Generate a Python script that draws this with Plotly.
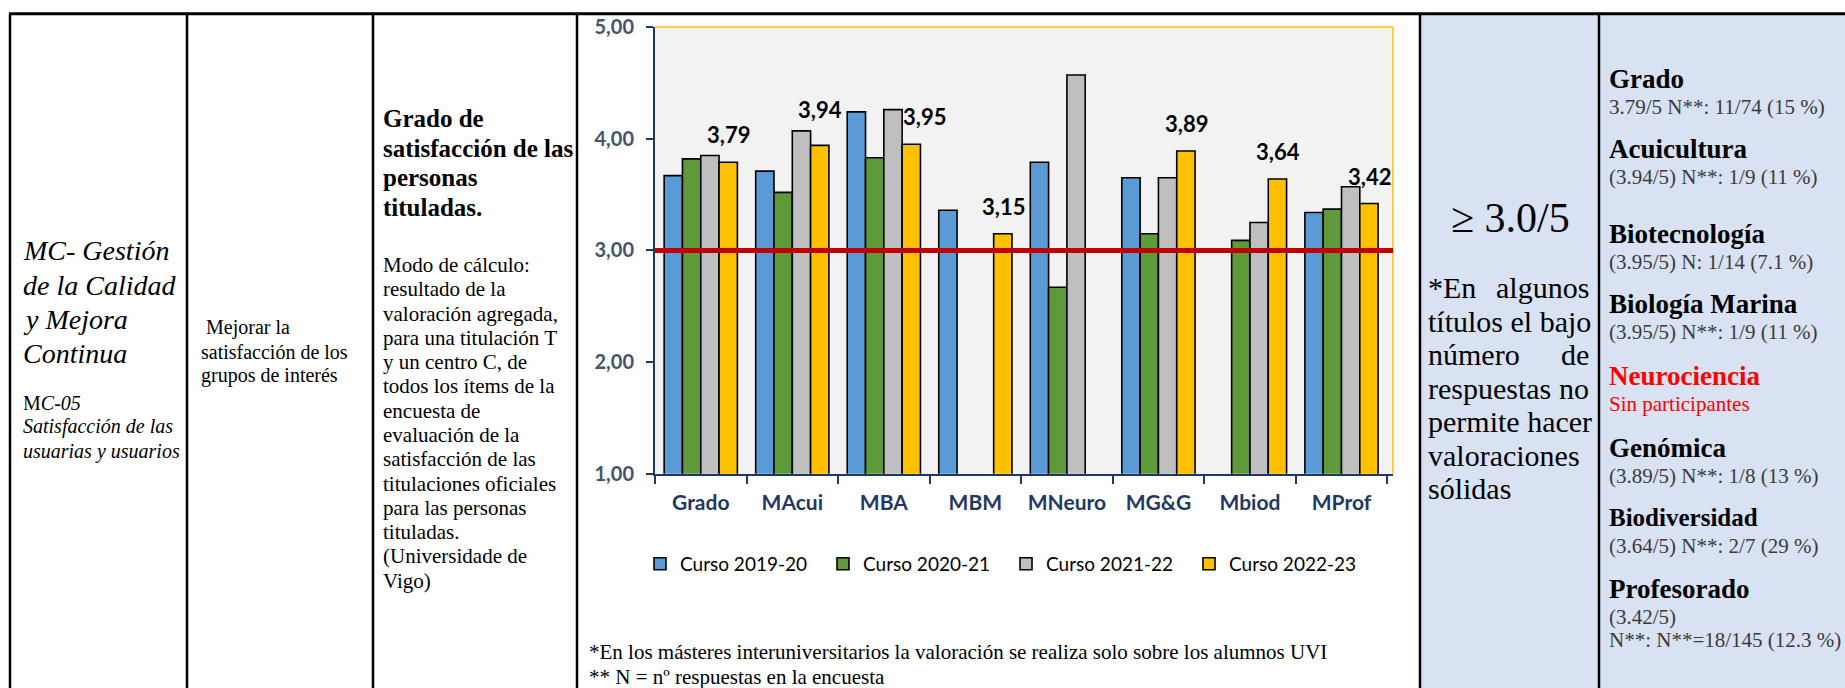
import plotly.graph_objects as go

# ---------------- data ----------------
categories = ["Grado", "MAcui", "MBA", "MBM", "MNeuro", "MG&G", "Mbiod", "MProf"]
curso_2019_20 = [3.67, 3.71, 4.24, 3.36, 3.79, 3.65, None, 3.34]
curso_2020_21 = [3.82, 3.52, 3.83, None, 2.67, 3.15, 3.09, 3.37]
curso_2021_22 = [3.85, 4.07, 4.26, None, 4.57, 3.65, 3.25, 3.57]
curso_2022_23 = [3.79, 3.94, 3.95, 3.15, None, 3.89, 3.64, 3.42]
series_names = ["Curso 2019-20", "Curso 2020-21", "Curso 2021-22", "Curso 2022-23"]
threshold = 3.0
y_ticks = [1, 2, 3, 4, 5]

right_items = [
    ("Grado", "3.79/5 N**: 11/74 (15 %)"),
    ("Acuicultura", "(3.94/5) N**: 1/9 (11 %)"),
    ("Biotecnología", "(3.95/5) N: 1/14 (7.1 %)"),
    ("Biología Marina", "(3.95/5) N**: 1/9 (11 %)"),
    ("Neurociencia", "Sin participantes"),
    ("Genómica", "(3.89/5) N**: 1/8 (13 %)"),
    ("Biodiversidad", "(3.64/5) N**: 2/7 (29 %)"),
    ("Profesorado", "(3.42/5)<br>N**: N**=18/145 (12.3 %)"),
]

# ---------------- layout helpers ----------------
W = 1845
FIG_H = 700               # rendered page height
Y_OFF, Y_SCALE = 12.0, 0.966   # page -> screenshot vertical mapping compensation

def px(x):
    return x / W
def py(y):
    page_y = (y - Y_OFF) / Y_SCALE
    return 1 - page_y / FIG_H

colors = ["#5B9BD5", "#5E9A3A", "#BFBFBF", "#FFC000"]
series = [curso_2019_20, curso_2020_21, curso_2021_22, curso_2022_23]
label_nudge = {"MAcui": (0, 8), "MBA": (13, 0)}

fig = go.Figure()
for name, vals, col in zip(series_names, series, colors):
    fig.add_trace(go.Bar(
        x=categories, y=vals, name=name,
        marker=dict(color=col, line=dict(color="black", width=1.6)),
    ))

SERIF = "Liberation Serif"
SANS = "Lato"

# ------------- value labels over last series -------------
ann = []
for c, v in zip(categories, curso_2022_23):
    if v is None:
        continue
    dx, dy = label_nudge.get(c, (0, 0))
    ann.append(dict(x=c, y=v, xref="x", yref="y", text=f"{v:.2f}".replace(".", ","),
                    showarrow=False, xshift=28 + dx, yshift=12 + dy, yanchor="bottom",
                    font=dict(family=SANS, size=22, color="black", weight="bold")))

def line(text, x, y, size, color="black", anchor="left", family=SERIF):
    ann.append(dict(x=px(x), y=py(y), xref="paper", yref="paper", text=text,
                    showarrow=False, xanchor=anchor, yanchor="middle",
                    font=dict(family=family, size=size, color=color)))

# column 1
for i, t in enumerate(["MC- Gestión", "de la Calidad", "y Mejora", "Continua"]):
    line(f"<i>{t}</i>", 21, 250 + i * 34.3, 28)
line("M<i>C-05</i>", 21, 402, 20)
line("<i>Satisfacción de las</i>", 21, 426, 20)
line("<i>usuarias y usuarios</i>", 21, 451, 20)

# column 2
for i, t in enumerate([" Mejorar la", "satisfacción de los", "grupos de interés"]):
    line(t, 199, 327 + i * 24, 20)

# column 3
for i, t in enumerate(["Grado de", "satisfacción de las", "personas", "tituladas."]):
    line(f"<b>{t}</b>", 381, 118 + i * 29.4, 25)
modo = ["Modo de cálculo:", "resultado de la", "valoración agregada,",
        "para una titulación T", "y un centro C, de", "todos los ítems de la",
        "encuesta de", "evaluación de la", "satisfacción de las",
        "titulaciones oficiales", "para las personas", "tituladas.",
        "(Universidade de", "Vigo)"]
for i, t in enumerate(modo):
    line(t, 381, 264 + i * 24.3, 21)

# footnotes
line("*En los másteres interuniversitarios la valoración se realiza solo sobre los alumnos UVI", 587, 651, 21)
line("** N = nº respuestas en la encuesta", 587, 676, 21)

# goal column
line("≥ 3.0/5", 1510, 217, 42, anchor="center")
just = [("*En", "algunos"), ("títulos el bajo", None), ("número", "de"),
        ("respuestas", "no"), ("permite hacer", None), ("valoraciones", None), ("sólidas", None)]
for i, (a, b) in enumerate(just):
    yy = 287 + i * 33.5
    line(a, 1426, yy, 30)
    if b:
        line(b, 1591, yy, 30, anchor="right")

# results column
title_y = [78, 148, 233, 303, 375, 447, 517, 588]
for (t, s), yy in zip(right_items, title_y):
    red = t == "Neurociencia"
    tsize = 25 if t == "Biodiversidad" else 27
    line(f"<b>{t}</b>", 1607, yy, tsize, color="#FF0000" if red else "black")
    subs = s.split("<br>")
    for j, st in enumerate(subs):
        line(st, 1607, yy + 28 + j * 23, 21, color="#FF0000" if red else "#3A3A3A")

# ------------- table shapes -------------
top = min(py(6), 0.999)
shapes = [
    dict(type="rect", xref="paper", yref="paper", x0=px(1420), x1=1, y0=0, y1=top,
         fillcolor="#D9E2F3", line=dict(width=0), layer="below"),
    dict(type="line", xref="paper", yref="paper", x0=px(9), x1=1, y0=top, y1=top,
         line=dict(color="black", width=3)),
]
for xv in [10, 187, 373, 577, 1420, 1599]:
    shapes.append(dict(type="line", xref="paper", yref="paper", x0=px(xv), x1=px(xv),
                       y0=0, y1=top, line=dict(color="black", width=2.5)))
# plot frame (top / right in gold)
shapes.append(dict(type="line", xref="x domain", yref="y domain", x0=0, x1=1, y0=1, y1=1,
                   line=dict(color="#FFC000", width=1.5)))
shapes.append(dict(type="line", xref="x domain", yref="y domain", x0=1, x1=1, y0=0, y1=1,
                   line=dict(color="#FFC000", width=1.5)))
# threshold line
shapes.append(dict(type="line", xref="x domain", yref="y", x0=0, x1=1, y0=threshold, y1=threshold,
                   line=dict(color="#C00000", width=5)))

fig.update_layout(
    width=W, height=FIG_H,
    margin=dict(l=0, r=0, t=0, b=0),
    paper_bgcolor="white",
    plot_bgcolor="#F2F2F2",
    separators=",.",
    barmode="group", bargap=0.2, bargroupgap=0,
    showlegend=True,
    legend=dict(orientation="h", x=px(640), xanchor="left", y=py(563), yanchor="middle",
                entrywidth=138, entrywidthmode="pixels",
                font=dict(family=SANS, size=19, color="black"), bgcolor="rgba(0,0,0,0)",
                itemclick=False),
    annotations=ann,
    shapes=shapes,
    xaxis=dict(domain=[px(655), px(1393)], type="category", tickson="boundaries",
               ticks="outside", ticklen=8, tickcolor="#1F3864", tickwidth=1.5,
               showline=True, linecolor="#1F3864", linewidth=2, showgrid=False,
               ticklabelstandoff=9,
               tickfont=dict(family=SANS, size=21, color="#1F3864", weight="bold")),
    yaxis=dict(domain=[py(473), py(26)], range=[1, 5], tickvals=y_ticks, tickformat=".2f",
               ticks="outside", ticklen=7, tickcolor="#1F3864", tickwidth=1.5,
               showline=True, linecolor="#1F3864", linewidth=2, showgrid=False, zeroline=False,
               ticklabelstandoff=8,
               tickfont=dict(family=SANS, size=20, color="#44546A", weight="bold")),
)

fig.write_html("out.html", config={"displayModeBar": False},
               post_script="document.body.style.margin='0px';document.body.style.padding='0px';"
                           "document.documentElement.style.overflow='hidden';")
